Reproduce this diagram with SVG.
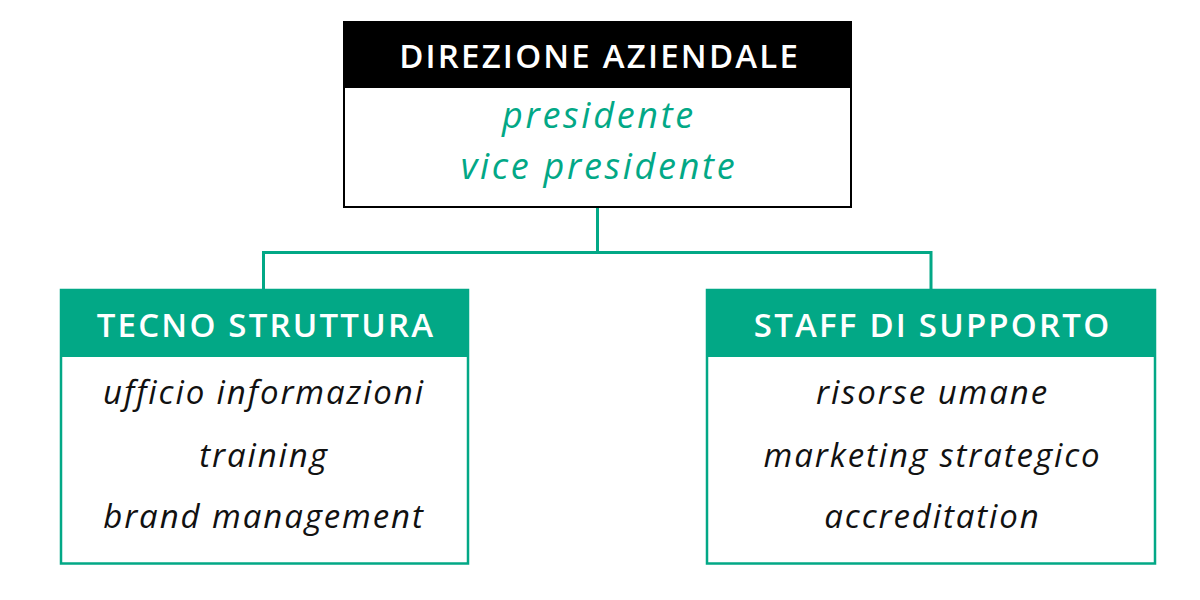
<svg xmlns="http://www.w3.org/2000/svg" width="1200" height="600" viewBox="0 0 1200 600">
<style>
.hd{font-family:"Open Sans","Liberation Sans",sans-serif;font-weight:600;font-size:33px;letter-spacing:2.2px;fill:#fff;text-anchor:middle}
.it{font-family:"Open Sans","Liberation Sans",sans-serif;font-style:italic;font-size:33px;letter-spacing:1.9px;fill:#111;text-anchor:middle}
.tp{font-size:36px;letter-spacing:2.7px;fill:#02a886}
.conn{fill:none;stroke:#02a886;stroke-width:3}
</style>
<rect width="1200" height="600" fill="#fff"/>
<g id="connectors">
<path class="conn" d="M597.5 208 V252.5 M263.5 290 V252.5 H931 V290"/>
</g>
<g id="direzione">
<rect x="344" y="22" width="507" height="185" fill="#fff" stroke="#000" stroke-width="2"/>
<rect x="343" y="21" width="509" height="67" fill="#000"/>
<text class="hd" x="599.6" y="67.5">DIREZIONE AZIENDALE</text>
<text class="it tp" x="599" y="128">presidente</text>
<text class="it tp" x="599" y="179">vice presidente</text>
</g>
<g id="tecno">
<rect x="61" y="290" width="407" height="273.5" fill="#fff" stroke="#02a886" stroke-width="2.5"/>
<rect x="60" y="289" width="409" height="68" fill="#02a886"/>
<text class="hd" x="266" y="337">TECNO STRUTTURA</text>
<text class="it" x="264" y="404">ufficio informazioni</text>
<text class="it" x="264" y="467">training</text>
<text class="it" x="264" y="528">brand management</text>
</g>
<g id="staff">
<rect x="707" y="290" width="448" height="273.5" fill="#fff" stroke="#02a886" stroke-width="2.5"/>
<rect x="706" y="289" width="450" height="68" fill="#02a886"/>
<text class="hd" x="932.6" y="337">STAFF DI SUPPORTO</text>
<text class="it" x="932.5" y="404">risorse umane</text>
<text class="it" x="932.5" y="467">marketing strategico</text>
<text class="it" x="932.5" y="528">accreditation</text>
</g>
</svg>
